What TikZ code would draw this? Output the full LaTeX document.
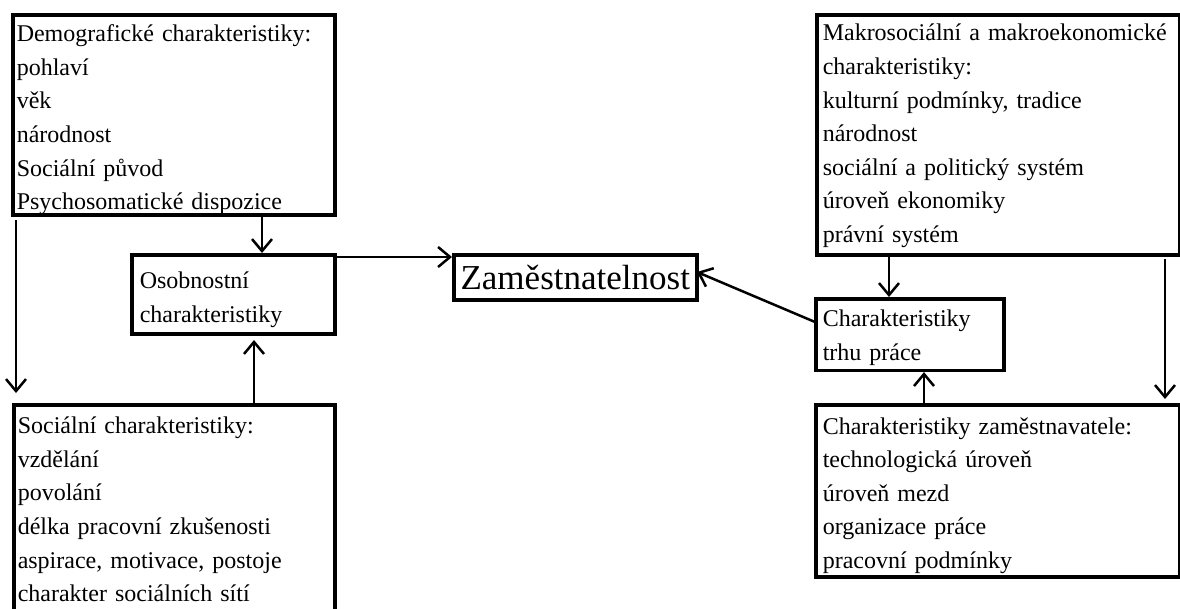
\documentclass[tikz,border=0pt]{standalone}
\usepackage{fontspec}
\setmainfont{Liberation Serif}
\usetikzlibrary{arrows.meta}
\newcommand{\fl}[1]{\rule{0pt}{#1pt}}
\newcommand{\ld}[1]{\rule[-#1pt]{0pt}{#1pt}}
\begin{document}
\begin{tikzpicture}[x=1pt,y=-1pt,
  box/.style={draw, line width=3.5pt, inner ysep=0pt, anchor=north west, align=left,
    font=\fontsize{24pt}{33.6pt}\selectfont},
  arr/.style={line width=2.5pt, -{Straight Barb[length=12pt,width=20pt]}}]
\useasboundingbox[fill=white] (0,0) rectangle (1180,608);

% boxes
\node[box, inner xsep=4pt, text width=314pt, minimum height=200pt] (A) at (11,13)
 {\fl{27}Demografické charakteristiky:\\pohlaví\\věk\\národnost\\Sociální původ\\Psychosomatické dispozice\ld{5}};
\node[box, inner xsep=8pt, text width=187pt, minimum height=79pt] (B) at (130,253)
 {\fl{34}Osobnostní\\charakteristiky\ld{11}};
\node[box, inner xsep=4pt, text width=313pt, minimum height=217pt] (C) at (12,403)
 {\fl{29}Sociální charakteristiky:\\vzdělání\\povolání\\délka pracovní zkušenosti\\aspirace, motivace, postoje\\charakter sociálních sítí\ld{20}};
\node[draw, line width=3.5pt, inner sep=0pt, anchor=north west, minimum width=243pt, minimum height=45pt,
  font=\fontsize{35pt}{38pt}\selectfont] (Z) at (452,253) {Zaměstnatelnost};
\node[box, inner xsep=6pt, text width=351pt, minimum height=240pt] (D) at (815,13)
 {\fl{26}Makrosociální a makroekonomické\\charakteristiky:\\kulturní podmínky, tradice\\národnost\\sociální a politický systém\\úroveň ekonomiky\\právní systém\ld{12}};
\node[box, inner xsep=7pt, text width=174pt, minimum height=71pt] (E) at (814,297)
 {\fl{28}Charakteristiky\\trhu práce\ld{10}};
\node[box, inner xsep=7pt, text width=350pt, minimum height=172pt] (F) at (814,403)
 {\fl{29}Charakteristiky zaměstnavatele:\\technologická úroveň\\úroveň mezd\\organizace práce\\pracovní podmínky\ld{8}};

% helper coordinates
\coordinate (xab) at (262,0);
\coordinate (lt) at (16,220);
\coordinate (lb) at (16,393);
\coordinate (xcb) at (254,0);
\coordinate (cbtip) at (254,340);
\coordinate (ybz) at (0,257);
\coordinate (xde) at (889,0);
\coordinate (rt) at (1165,259);
\coordinate (rb) at (1165,399);
\coordinate (xfe) at (924,0);
\coordinate (ez) at (815,322);
\coordinate (zt) at (697,272);

% connectors
\draw[arr] (A.south -| xab) -- (B.north -| xab);
\draw[arr] (lt) -- (lb);
\draw[arr] (C.north -| xcb) -- (cbtip);
\draw[arr] (B.east |- ybz) -- (Z.west |- ybz);
\draw[arr] (ez) -- (zt);
\draw[arr] (D.south -| xde) -- (E.north -| xde);
\draw[arr] (rt) -- (rb);
\draw[arr] (F.north -| xfe) -- (E.south -| xfe);
\end{tikzpicture}
\end{document}
